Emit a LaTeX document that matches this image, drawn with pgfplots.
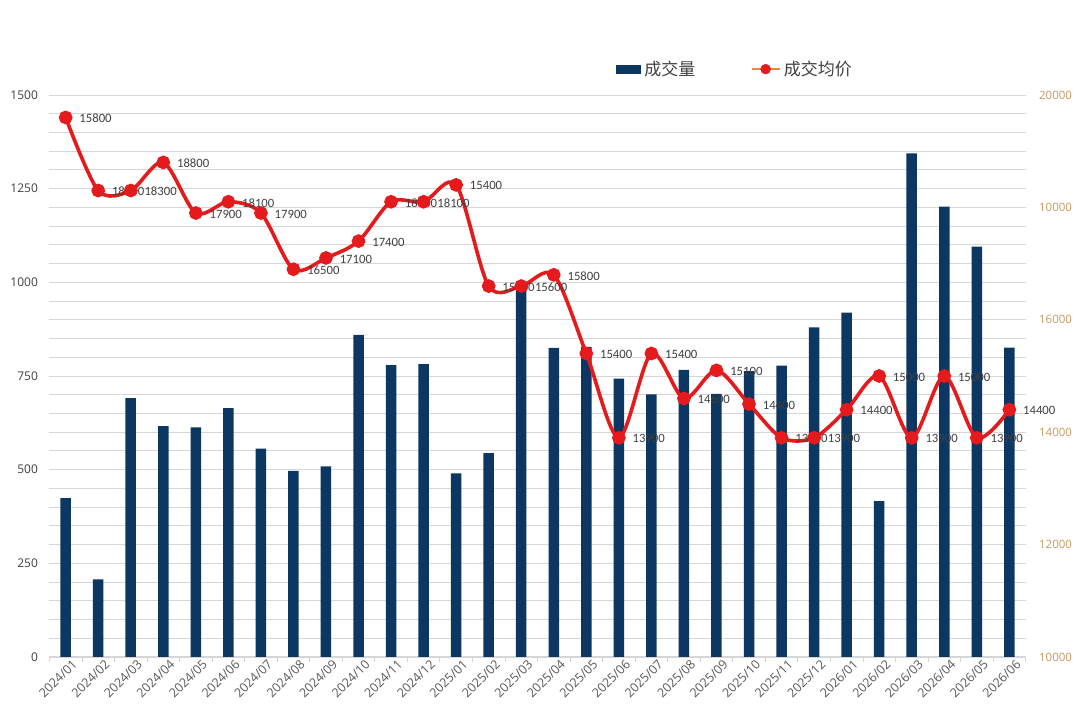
\documentclass[border=0pt]{standalone}
\usepackage{fontspec}
\setmainfont{Open Sans}
\newfontfamily\cjk{Noto Sans CJK SC}
\newfontfamily\labfont{Carlito}
\usepackage{pgfplots}
\usepackage{pgfplotstable}
\pgfplotsset{compat=1.18}
\definecolor{navy}{HTML}{0C3763}
\definecolor{lred}{HTML}{E41A1C}
\definecolor{lorange}{HTML}{E98A3A}
\definecolor{tanc}{HTML}{C9965F}
\definecolor{gridc}{HTML}{D6D6D6}
\definecolor{txtc}{HTML}{404040}
\definecolor{xtxt}{HTML}{595959}

\pgfplotstableread{
x vol price lab
0 424 19600 15800
1 207 18300 18300
2 691 18300 18300
3 616 18800 18800
4 613 17900 17900
5 664 18100 18100
6 556 17900 17900
7 497 16900 16500
8 509 17100 17100
9 860 17400 17400
10 779 18100 18100
11 782 18100 18100
12 490 18400 15400
13 544 16600 15600
14 995 16600 15600
15 825 16800 15800
16 828 15400 15400
17 743 13900 13900
18 701 15400 15400
19 766 14600 14600
20 702 15100 15100
21 763 14500 14400
22 778 13900 13900
23 880 13900 13900
24 919 14400 14400
25 416 15000 15000
26 1344 13900 13900
27 1202 15000 15000
28 1095 13900 13900
29 826 14400 14400
}\data

\begin{document}
\begin{tikzpicture}
\useasboundingbox (0,0) rectangle (1080pt,719pt);
\begin{axis}[
  at={(49.4pt,62pt)}, anchor=south west,
  scale only axis, width=976.2pt, height=562pt,
  xmin=-0.5, xmax=29.5, ymin=0, ymax=1500,
  axis x line*=bottom, axis y line*=left,
  y axis line style={draw=none},
  x axis line style={draw=gridc, line width=1pt, -},
  tick align=outside,
  major tick length=0pt, minor tick length=0pt,
  xtick={0,...,29},
  xticklabels={2024/01,2024/02,2024/03,2024/04,2024/05,2024/06,2024/07,2024/08,2024/09,2024/10,2024/11,2024/12,2025/01,2025/02,2025/03,2025/04,2025/05,2025/06,2025/07,2025/08,2025/09,2025/10,2025/11,2025/12,2026/01,2026/02,2026/03,2026/04,2026/05,2026/06},
  xticklabel style={rotate=45, anchor=east, font=\fontsize{12.5}{13}\selectfont, text=xtxt, inner sep=1pt, xshift=4pt, yshift=-10pt},
  extra x ticks={-0.5,0.5,...,29.5}, extra x tick labels={},
  extra x tick style={major tick length=5pt, tick style={draw=gridc, line width=0.8pt}, grid=none},
  ytick={0,250,...,1500}, minor y tick num=4,
  ymajorgrids, yminorgrids,
  major grid style={draw=gridc, line width=0.9pt},
  minor grid style={draw=gridc, line width=0.9pt},
  yticklabel style={font=\fontsize{12}{14}\selectfont, text=txtc, xshift=-8pt},
  /pgf/number format/assume math mode=true,
  /pgf/number format/1000 sep={},
  legend style={at={(0.703,1.046)}, anchor=center, draw=none, fill=none,
    legend columns=2, font=\cjk\fontsize{17}{20}\selectfont, text=txtc,
    /tikz/every even column/.append style={column sep=52pt},
    nodes={inner sep=3pt}},
]
\addplot[ybar, bar width=10.5pt, bar shift=0pt, fill=navy, draw=none,
  legend image code/.code={\fill[navy] (0pt,-4.5pt) rectangle (25pt,4.5pt);}]
  table[x=x, y=vol] {\data};
\addlegendentry{成交量}
\addlegendimage{legend image code/.code={\draw[lorange, line width=2.5pt] (0pt,0pt) -- (28pt,0pt); \fill[lred] (14pt,0pt) circle (5pt);}}
\addlegendentry{成交均价}
\end{axis}
\begin{axis}[
  at={(49.4pt,62pt)}, anchor=south west,
  scale only axis, width=976.2pt, height=562pt,
  xmin=-0.5, xmax=29.5, ymin=10000, ymax=20000,
  axis x line=none, axis y line*=right,
  y axis line style={draw=none},
  major tick length=0pt,
  scaled y ticks=false,
  ytick={10000,12000,...,20000},
  yticklabels={10000,12000,14000,16000,10000,20000},
  yticklabel style={font=\fontsize{11.5}{13}\selectfont, text=tanc, xshift=10pt},
  clip=false,
]
\addplot[lred, line width=3.6pt, smooth, mark=*, mark size=5pt,
  mark options={fill=lred, draw=none},
  nodes near coords, point meta=explicit symbolic,
  every node near coord/.append style={anchor=west, inner sep=0pt, xshift=12pt, yshift=-1pt,
    text=txtc, font=\labfont\fontsize{12.7}{14}\selectfont}]
  table[x=x, y=price, meta=lab] {\data};
\end{axis}
\end{tikzpicture}
\end{document}
